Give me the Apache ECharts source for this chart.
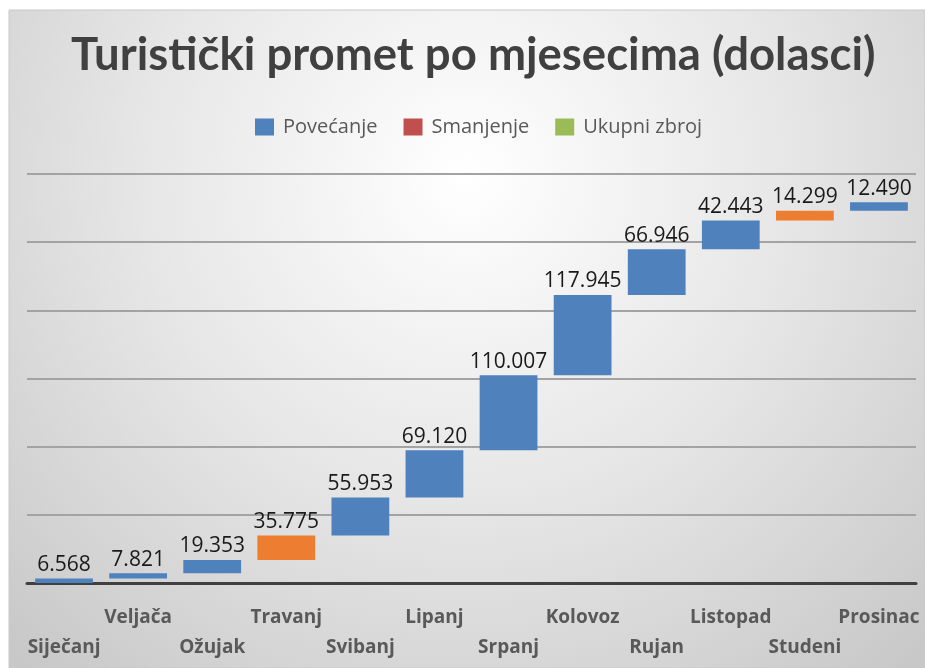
<!DOCTYPE html>
<html>
<head>
<meta charset="utf-8">
<script src="https://cdn.jsdelivr.net/npm/echarts@6/dist/echarts.min.js"></script>
<style>
  html, body { margin: 0; padding: 0; background: #fff; }
  #main { width: 925px; height: 668px; }
</style>
</head>
<body>
<div id="main"></div>
<script>
var mjeseci = ["Siječanj", "Veljača", "Ožujak", "Travanj", "Svibanj", "Lipanj",
  "Srpanj", "Kolovoz", "Rujan", "Listopad", "Studeni", "Prosinac"];
var povecanje = [6568, 7821, 19353, "-", 55953, 69120, 110007, 117945, 66946, 42443, "-", 12490];
var smanjenje = ["-", "-", "-", 35775, "-", "-", "-", "-", "-", "-", 14299, "-"];
var ukupno = [];

// nevidljiva osnovica = zbroj prethodnih mjeseci
var osnovica = [];
var zbroj = 0;
for (var i = 0; i < mjeseci.length; i++) {
  osnovica.push(zbroj);
  zbroj += (povecanje[i] === "-" ? 0 : povecanje[i]) + (smanjenje[i] === "-" ? 0 : smanjenje[i]);
}

function tocke(v) {
  return String(v).replace(/\B(?=(\d{3})+(?!\d))/g, ".");
}

var chart = echarts.init(document.getElementById("main"));

var oznaka = {
  show: true,
  position: "top",
  distance: 3,
  fontFamily: "Open Sans",
  fontSize: 21,
  color: "#1a1a1a",
  formatter: function (p) { return tocke(p.value); }
};

var option = {
  animation: false,
  graphic: [
    {
      type: "rect",
      z: -10,
      shape: { x: 9, y: 10, width: 916, height: 658 },
      style: {
        fill: new echarts.graphic.RadialGradient(0.5, 0.25, 1.0, [
          { offset: 0, color: "#ffffff" },
          { offset: 0.5, color: "#e6e6e6" },
          { offset: 1, color: "#c8c8c8" }
        ]),
        stroke: "#c8c8c8",
        lineWidth: 1
      }
    }
  ],
  title: {
    text: "Turistički promet po mjesecima (dolasci)",
    left: 66,
    top: 27,
    textStyle: {
      fontFamily: "Lato",
      fontWeight: "bold",
      fontSize: 45.5,
      color: "#404040"
    }
  },
  legend: {
    top: 112,
    left: 250,
    itemWidth: 19,
    itemHeight: 17,
    itemGap: 26,
    icon: "rect",
    data: ["Povećanje", "Smanjenje", "Ukupni zbroj"],
    textStyle: {
      fontFamily: "Open Sans",
      fontSize: 20,
      color: "#595959",
      padding: [0, 0, 0, 4]
    }
  },
  grid: {
    left: 27,
    right: 9,
    top: 174,
    bottom: 85
  },
  xAxis: {
    type: "category",
    data: mjeseci,
    axisLine: { lineStyle: { color: "#404040", width: 3 } },
    axisTick: { show: false },
    axisLabel: {
      interval: 0,
      margin: 20,
      lineHeight: 30,
      fontFamily: "Open Sans",
      fontWeight: "bold",
      fontSize: 19,
      color: "#595959",
      formatter: function (v, idx) {
        return idx % 2 === 0 ? " \n" + v : v + "\n ";
      }
    }
  },
  yAxis: {
    type: "value",
    min: 0,
    max: 600000,
    interval: 100000,
    axisLabel: { show: false },
    axisLine: { show: false },
    axisTick: { show: false },
    splitLine: { lineStyle: { color: "#a3a3a3", width: 2 } }
  },
  series: [
    {
      name: "osnovica",
      type: "bar",
      stack: "w",
      barCategoryGap: "22%",
      itemStyle: { color: "transparent" },
      emphasis: { disabled: true },
      data: osnovica
    },
    {
      name: "Povećanje",
      type: "bar",
      stack: "w",
      itemStyle: { color: "#4F81BD" },
      label: oznaka,
      data: povecanje
    },
    {
      name: "Smanjenje",
      type: "bar",
      stack: "w",
      itemStyle: { color: "#C0504D" },
      label: oznaka,
      data: smanjenje.map(function (v) {
        return v === "-" ? v : { value: v, itemStyle: { color: "#ED7D31" } };
      })
    },
    {
      name: "Ukupni zbroj",
      type: "bar",
      stack: "w",
      itemStyle: { color: "#9BBB59" },
      data: ukupno
    }
  ]
};

chart.setOption(option);
</script>
</body>
</html>
